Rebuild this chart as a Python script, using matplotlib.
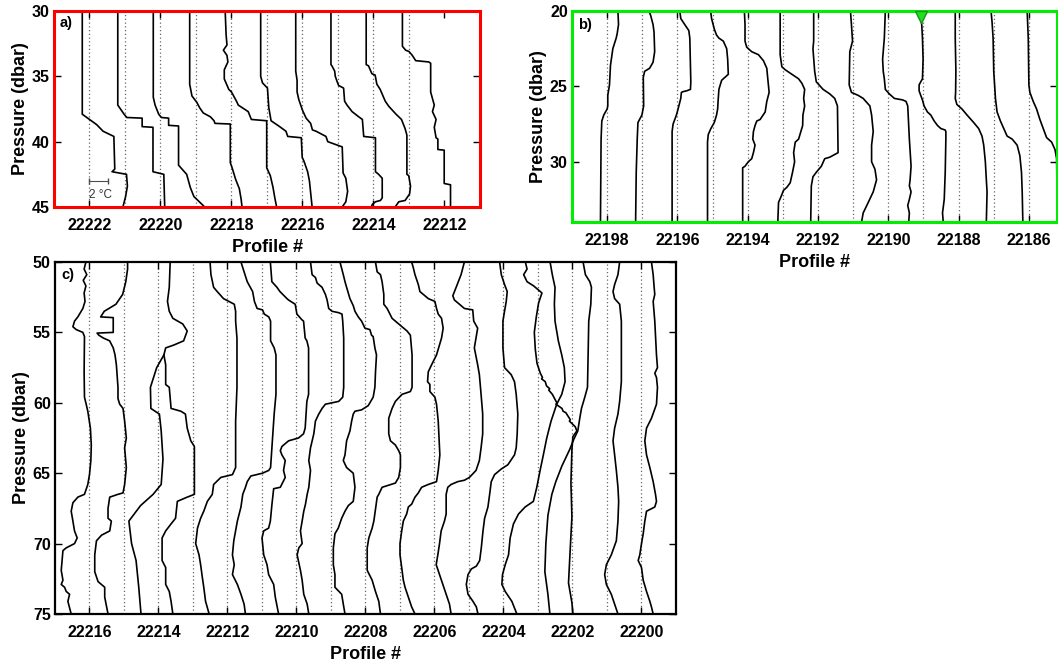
import matplotlib.pyplot as plt

plt.rcParams['font.family'] = ['Liberation Sans', 'DejaVu Sans']

# ---- panel a : profiles 22222..22213, (pressure dbar, temperature offset degC) ----
a_22222 = [(30, -0.8), (37.9, -0.8), (38.2, -0.2), (38.7, 0.8), (39.2, 1.5), (39.6, 2.7), (42.1, 2.8),
           (42.3, 2.5), (42.5, 4.1), (43.4, 4.2), (44.2, 4.0), (45, 3.7)]
a_22221 = [(30, -0.8), (37.2, -0.8), (37.6, -0.4), (37.9, -0.1), (38.15, 0.2), (38.2, 1.9), (38.85, 1.9),
           (38.9, 3.1), (42.3, 3.1), (42.5, 4.3), (45, 4.4)]
a_22220 = [(30, -0.8), (36.6, -0.8), (37.2, -0.6), (37.9, -0.2), (38.15, 0.1), (38.2, 0.9), (38.75, 0.9),
           (38.8, 2.0), (41.8, 2.0), (42.5, 2.9), (43.5, 3.3), (44.2, 3.7), (45, 4.9)]
a_22219 = [(30, -0.7), (35.6, -0.7), (36.5, -0.45), (37.0, 0.1), (37.4, 0.4), (37.8, 0.8), (38.1, 1.6),
           (38.4, 2.0), (38.6, 2.1), (38.65, 3.8), (41.6, 3.8), (42.0, 4.0), (42.9, 4.4), (43.6, 4.8),
           (44.4, 5.0), (45, 5.1)]
a_22218 = [(30, -0.7), (31.8, -0.6), (32.6, -0.5), (33.0, -0.9), (33.4, -0.5), (33.9, -0.4), (34.5, -0.8),
           (35.2, -0.8), (36.0, -0.3), (36.2, 0.0), (36.9, 0.55), (37.2, 0.75), (37.7, 1.85), (38.3, 2.2),
           (38.4, 3.9), (42.0, 3.9), (42.6, 4.3), (43.5, 4.6), (44.3, 4.8), (45, 5.0)]
a_22217 = [(30, -0.7), (35.0, -0.7), (35.5, -0.5), (35.9, 0.05), (37.4, 0.2), (38.4, 0.45), (38.8, 1.3),
           (39.2, 2.1), (39.6, 2.3), (39.7, 3.8), (41.2, 3.9), (41.5, 4.1), (42.3, 4.5), (43.0, 4.7), (45, 5.0)]
a_22216 = [(30, -0.75), (34.6, -0.75), (35.3, -0.6), (36.2, -0.6), (36.8, -0.4), (37.6, 0.0), (38.2, 0.4),
           (38.6, 0.9), (39.1, 1.1), (39.2, 1.5), (39.6, 2.6), (40.0, 2.8), (40.4, 4.4), (42.4, 4.5),
           (42.8, 4.8), (43.8, 5.0), (44.6, 4.8), (45, 4.4)]
a_22215 = [(30, -0.78), (34.1, -0.78), (34.2, -0.67), (34.6, -0.37), (35.0, -0.3), (35.4, -0.1), (35.7, 0.07),
           (35.9, 0.62), (36.9, 0.73), (37.2, 1.0), (37.7, 1.56), (38.1, 2.3), (38.3, 2.7), (39.6, 2.85),
           (39.7, 4.15), (42.3, 4.15), (42.5, 4.5), (42.8, 4.9), (44.3, 4.9), (44.5, 4.7), (44.6, 4.15),
           (44.8, 3.8), (45, 3.7)]
a_22214 = [(30, -0.81), (34.1, -0.81), (34.2, -0.55), (34.8, -0.18), (34.9, 0.18), (35.6, 0.37), (36.0, 0.74),
           (36.9, 1.3), (37.3, 1.7), (37.9, 2.5), (38.3, 3.1), (39.0, 3.5), (39.5, 3.7), (42.5, 3.7),
           (42.6, 3.9), (43.4, 4.1), (44.0, 4.0), (44.5, 3.5), (44.6, 2.8), (45, 2.4)]
a_22213 = [(30, -0.73), (32.7, -0.73), (33.0, -0.37), (33.1, 0.0), (33.4, 0.37), (33.8, 0.74), (33.9, 2.2),
           (34.0, 2.4), (36.2, 2.4), (36.7, 2.6), (37.2, 2.8), (37.7, 2.6), (38.3, 3.0), (38.9, 2.8),
           (39.7, 3.0), (39.8, 3.2), (40.6, 3.2), (40.65, 3.9), (43.2, 3.9), (43.3, 4.6), (45, 4.6)]

profiles_a = [22222, 22221, 22220, 22219, 22218, 22217, 22216, 22215, 22214, 22213]
curves_a = [a_22222, a_22221, a_22220, a_22219, a_22218, a_22217, a_22216, a_22215, a_22214, a_22213]

# ---- panel b : profiles 22198..22186 ----
b_22198 = [(20, 1.19), (20.9, 1.26), (21.5, 1.11), (21.8, 1.0), (22.5, 0.63), (23.6, 0.37), (24.9, 0.26),
           (25.6, 0.07), (26.3, 0.07), (26.5, 0.0), (26.9, -0.37), (27.3, -0.59), (28.5, -0.67), (34, -0.74)]
b_22197 = [(20, 0.74), (20.3, 0.93), (20.9, 1.19), (21.4, 1.3), (22.7, 1.37), (23.4, 1.19), (23.8, 0.81),
           (24.0, 0.26), (24.4, 0.11), (26.3, 0.15), (26.9, -0.04), (27.4, -0.48), (28.5, -0.56), (30.7, -0.67),
           (34, -0.74)]
b_22196 = [(20, 0.26), (20.5, 0.37), (20.9, 0.81), (21.3, 1.26), (21.8, 1.37), (24.7, 1.48), (25.2, 1.44),
           (25.3, 1.0), (25.35, 0.63), (25.4, 0.44), (25.8, 0.37), (26.5, 0.07), (26.9, -0.11), (27.5, -0.48),
           (28.0, -0.59), (34, -0.59)]
b_22195 = [(20, -0.22), (20.5, -0.11), (21.2, 0.19), (21.6, 0.44), (21.8, 0.7), (22.0, 1.19), (22.5, 1.56),
           (23.2, 1.67), (24.2, 1.74), (24.4, 1.37), (24.6, 1.0), (25.2, 0.7), (25.8, 0.63), (26.5, 0.56),
           (26.9, 0.44), (27.4, 0.19), (27.8, -0.19), (28.2, -0.48), (28.7, -0.56), (34, -0.56)]
b_22194 = [(20, -0.37), (20.9, -0.3), (22.0, -0.3), (22.4, -0.11), (22.7, 0.44), (22.9, 1.19), (23.3, 1.74),
           (23.8, 2.11), (24.5, 2.22), (25.4, 2.37), (26.0, 2.11), (26.7, 1.93), (27.2, 1.37), (27.3, 1.0),
           (27.6, 0.81), (28.0, 0.63), (28.5, 0.56), (28.9, 0.81), (29.4, 0.63), (29.8, 0.44), (30.0, 0.07),
           (30.3, -0.3), (30.4, -0.56), (34, -0.56)]
b_22193 = [(20, -0.3), (22.9, -0.3), (23.7, -0.11), (23.9, 0.26), (24.2, 1.0), (24.5, 1.74), (24.8, 2.11),
           (25.2, 2.41), (25.8, 2.3), (26.3, 2.41), (26.9, 2.22), (27.6, 2.19), (28.5, 1.74), (28.7, 1.37),
           (29.4, 1.19), (30.0, 1.3), (30.7, 1.07), (31.4, 0.81), (31.7, 0.44), (31.9, 0.07), (32.3, -0.19),
           (32.7, -0.48), (34, -0.56)]
b_22192 = [(20, -0.48), (22.0, -0.48), (22.5, -0.56), (24.0, -0.37), (24.7, -0.19), (25.2, 0.56), (25.5, 1.3),
           (25.8, 1.85), (26.3, 2.15), (29.4, 2.22), (29.7, 1.3), (29.8, 0.74), (30.3, 0.37), (30.7, -0.19),
           (31.0, -0.56), (31.6, -0.74), (34, -0.81)]
b_22191 = [(20, -0.3), (20.9, -0.19), (22.0, -0.07), (22.7, -0.37), (24.9, -0.44), (25.4, -0.19), (25.6, 0.56),
           (25.8, 1.11), (26.3, 1.85), (26.9, 2.04), (28.0, 2.22), (28.9, 2.04), (30.0, 2.04), (30.5, 2.41),
           (31.2, 2.59), (32.0, 2.22), (32.7, 1.67), (33.4, 1.11), (34, 0.93)]
b_22190 = [(20, -0.33), (21.8, -0.44), (23.2, -0.63), (24.0, -0.56), (24.5, -0.44), (25.2, -0.33), (25.5, 0.11),
           (25.8, 0.67), (25.9, 1.59), (26.0, 1.96), (26.3, 2.15), (28.5, 2.33), (30.3, 2.52), (31.2, 2.41),
           (31.6, 2.33), (32.0, 2.52), (32.5, 2.33), (32.9, 2.15), (33.4, 2.33), (34, 2.26)]
b_22189 = [(20, -0.37), (20.9, -0.19), (21.8, -0.11), (23.2, -0.04), (24.5, -0.11), (24.7, -0.3), (24.9, -0.48),
           (25.3, -0.48), (25.6, -0.3), (25.9, -0.11), (26.3, 0.07), (26.7, 0.44), (26.9, 0.81), (27.3, 1.19),
           (27.6, 1.56), (27.8, 1.93), (27.9, 2.41), (28.0, 2.48), (28.5, 2.48), (30.7, 2.41), (32.5, 2.3),
           (33.4, 2.11), (34, 2.19)]
b_22188 = [(20, -0.37), (21.8, -0.37), (24.0, -0.3), (25.4, -0.33), (25.8, -0.37), (26.2, -0.19), (26.5, 0.37),
           (26.9, 0.93), (27.4, 1.67), (27.8, 2.22), (28.3, 2.59), (28.9, 2.78), (30.0, 2.96), (31.2, 3.07),
           (32.0, 3.15), (34, 3.07)]
b_22187 = [(20, -0.3), (20.7, -0.19), (21.8, -0.07), (24.0, 0.0), (25.8, 0.19), (26.7, 0.37), (27.3, 0.74),
           (27.8, 1.11), (28.3, 1.48), (28.5, 2.04), (28.9, 2.59), (29.6, 2.89), (30.7, 3.07), (32.0, 3.15),
           (34, 3.22)]
b_22186 = [(20, -0.19), (21.8, -0.07), (24.9, 0.0), (25.4, 0.11), (26.0, 0.48), (26.5, 0.85), (27.2, 1.22),
           (27.8, 1.59), (28.4, 1.96), (28.7, 2.52), (29.2, 2.89), (29.8, 3.07), (34, 3.15)]

profiles_b = [22198, 22197, 22196, 22195, 22194, 22193, 22192, 22191, 22190, 22189, 22188, 22187, 22186]
curves_b = [b_22198, b_22197, b_22196, b_22195, b_22194, b_22193, b_22192, b_22191, b_22190, b_22189,
            b_22188, b_22187, b_22186]
marker_b = (22189.08, 20.4)

# ---- panel c : profiles 22216..22200 ----
c_22216 = [(50, -0.4), (50.5, -0.6), (50.9, -0.3), (51.3, -0.7), (51.7, -0.4), (52.2, -0.6), (52.8, -0.5),
           (53.3, -0.74), (53.9, -1.3), (54.2, -1.67), (54.6, -1.85), (54.8, -1.48), (55.0, -0.74), (55.3, -0.56),
           (57.8, -0.6), (59.6, -0.56), (60.1, -0.37), (60.6, -0.19), (61.8, 0.1), (63.0, 0.2), (64.1, 0.15),
           (65.1, 0.0), (65.8, -0.19), (66.5, -0.56), (66.7, -1.3), (67.1, -1.85), (67.7, -2.04), (68.4, -1.85),
           (69.1, -1.67), (69.6, -1.37), (70.0, -1.67), (70.3, -2.59), (70.5, -2.96), (71.9, -3.15),
           (72.6, -2.96), (72.9, -3.15), (73.1, -2.78), (73.4, -2.59), (73.6, -2.22), (74.1, -2.41), (75, -2.04)]
c_22215 = [(50, 0.4), (50.5, 0.4), (51.4, 0.2), (52.3, -0.15), (53.0, -0.9), (53.5, -2.2), (53.9, -2.6),
           (53.95, -1.2), (55.0, -1.2), (55.05, -3.0), (55.2, -2.8), (55.4, -2.3), (55.6, -1.6), (56.1, -1.2),
           (56.6, -1.0), (57.3, -0.85), (58.9, -0.67), (59.7, -0.67), (60.1, -0.48), (60.4, -0.11), (61.3, 0.07),
           (62.5, 0.26), (63.2, 0.07), (64.6, 0.26), (65.8, 0.07), (66.4, -0.11), (66.5, -0.67), (66.7, -1.59),
           (67.5, -1.78), (68.2, -1.78), (68.4, -1.41), (69.1, -1.59), (69.4, -2.5), (69.8, -3.07),
           (70.8, -3.26), (72.0, -3.26), (72.7, -2.89), (73.1, -2.15), (73.8, -2.15), (75, -1.78)]
c_22214 = [(50, 1.3), (51.8, 1.2), (52.8, 1.0), (53.5, 1.2), (54.0, 1.6), (54.4, 2.7), (54.9, 3.2), (55.6, 2.8),
           (55.9, 1.7), (56.1, 0.8), (56.6, 0.6), (57.3, 0.8), (58.7, 0.8), (58.9, 1.2), (60.4, 1.4), (60.6, 2.5),
           (60.8, 3.0), (61.8, 3.2), (62.7, 3.6), (63.1, 4.0), (64.8, 4.0), (66.5, 4.0), (66.7, 3.2), (67.0, 2.1),
           (68.2, 1.9), (68.6, 1.4), (69.1, 0.8), (69.6, 0.4), (71.2, 0.4), (71.7, 0.8), (72.9, 0.8), (73.4, 1.2),
           (74.1, 1.4), (75, 1.6)]
# second trace near 22214 that splits off below 56 dbar
c_22214_low = [(56.6, 0.6), (57.5, -0.2), (58.9, -0.9), (60.4, -0.85), (60.8, 0.1), (62.0, 0.3), (64.0, 0.5),
               (65.8, 0.3), (66.5, -0.6), (67.3, -2.0), (68.4, -3.3), (70.0, -3.0), (71.2, -2.5), (73.1, -2.2),
               (75, -1.95)]
c_22213 = [(50, 1.9), (50.9, 2.0), (51.8, 2.3), (52.1, 2.7), (52.6, 3.4), (52.8, 4.0), (53.0, 4.6), (53.5, 4.75),
           (54.2, 4.75), (55.4, 4.9), (58.9, 4.9), (61.3, 4.75), (64.6, 4.75), (65.1, 4.4), (65.3, 3.1),
           (65.8, 2.3), (66.5, 2.15), (67.0, 1.6), (67.7, 1.2), (68.2, 0.85), (68.9, 0.5), (70.0, 0.3),
           (70.8, 0.67), (71.5, 0.85), (72.4, 1.04), (73.1, 1.2), (74.1, 1.4), (75, 1.8)]
c_22212 = [(50, 1.5), (50.4, 1.7), (51.4, 2.2), (52.1, 2.8), (52.8, 3.0), (53.3, 3.3), (53.4, 3.9), (53.7, 4.1),
           (53.9, 4.6), (54.2, 4.8), (55.6, 4.8), (56.1, 5.2), (56.6, 5.4), (59.4, 5.4), (60.8, 5.2), (62.7, 5.0),
           (64.6, 4.8), (64.8, 4.6), (65.0, 3.9), (65.2, 2.6), (65.6, 2.2), (66.0, 2.0), (66.5, 1.7), (67.4, 1.5),
           (68.4, 1.1), (69.1, 0.9), (69.8, 0.7), (70.8, 0.55), (71.5, 0.75), (72.2, 0.55), (72.9, 1.1),
           (73.6, 1.5), (74.3, 1.85), (75, 2.0)]
c_22211 = [(50, 0.93), (51.4, 1.1), (51.8, 1.67), (52.1, 2.0), (52.6, 2.78), (52.7, 2.96), (53.0, 3.7),
           (53.7, 3.89), (54.1, 4.44), (54.2, 4.63), (55.4, 4.81), (55.6, 5.0), (56.1, 5.19), (59.4, 5.19),
           (59.9, 5.0), (61.8, 4.81), (62.2, 4.63), (62.5, 4.07), (62.7, 2.96), (63.1, 2.22), (63.4, 2.04),
           (63.7, 2.22), (64.1, 2.59), (64.8, 2.4), (65.3, 2.59), (66.0, 2.04), (66.1, 1.3), (67.2, 1.11),
           (68.4, 0.93), (68.9, 0.74), (69.1, 0.19), (69.6, 0.0), (70.8, 0.19), (71.5, 0.56), (72.2, 0.74),
           (72.9, 1.3), (73.8, 1.48), (75, 1.85)]
c_22210 = [(50, 1.56), (50.9, 1.74), (51.1, 2.11), (51.5, 2.3), (51.8, 2.85), (52.3, 3.22), (52.7, 3.41),
           (53.3, 3.59), (53.5, 3.96), (53.6, 4.7), (53.7, 5.07), (54.2, 5.15), (55.4, 5.26), (58.9, 5.26),
           (59.6, 5.15), (59.9, 4.7), (60.0, 3.96), (60.1, 3.22), (60.4, 2.85), (60.8, 2.48), (61.3, 2.11),
           (62.2, 1.93), (63.2, 1.56), (64.1, 1.37), (64.8, 1.56), (66.0, 1.37), (66.5, 1.19), (67.2, 1.0),
           (67.7, 0.81), (68.4, 0.63), (69.1, 0.44), (70.0, 0.63), (70.3, 0.26), (70.8, 0.07), (71.9, 0.44),
           (72.6, 0.63), (73.6, 0.81), (74.3, 1.19), (75, 1.37)]
c_22209 = [(50, 1.0), (50.9, 1.37), (51.4, 1.56), (51.8, 1.74), (52.6, 2.11), (53.1, 2.48), (53.5, 2.67),
           (53.9, 3.04), (54.2, 3.41), (54.7, 3.78), (54.8, 4.33), (55.2, 4.52), (55.3, 4.7), (56.1, 4.89),
           (56.6, 5.07), (57.8, 4.96), (58.9, 4.89), (59.6, 4.7), (60.2, 4.15), (60.5, 3.41), (60.6, 2.67),
           (60.8, 2.48), (61.3, 2.3), (62.0, 2.11), (62.7, 1.74), (63.7, 1.56), (64.1, 1.37), (64.6, 1.74),
           (65.0, 2.48), (66.0, 2.67), (67.0, 2.48), (67.3, 1.93), (67.7, 1.56), (68.2, 1.19), (68.9, 0.81),
           (69.3, 0.44), (70.3, 0.26), (71.5, 0.26), (72.2, 0.44), (73.1, 0.44), (73.6, 1.19), (74.3, 1.37),
           (75, 1.56)]
c_22208 = [(50, 1.11), (50.7, 1.3), (50.9, 1.67), (51.4, 1.85), (52.3, 2.04), (53.0, 2.04), (53.3, 2.41),
           (54.0, 2.96), (54.2, 3.33), (54.4, 3.7), (54.6, 4.07), (54.9, 4.63), (55.2, 5.0), (56.6, 5.19),
           (58.9, 5.19), (59.2, 5.0), (59.4, 4.07), (59.9, 3.33), (60.4, 2.96), (61.1, 2.59), (62.2, 2.59),
           (62.7, 2.78), (63.0, 3.33), (63.4, 3.7), (63.7, 3.89), (64.6, 3.89), (65.3, 3.7), (65.7, 3.33),
           (66.0, 1.85), (66.5, 1.48), (66.7, 1.3), (68.4, 0.93), (68.9, 0.74), (69.6, 0.37), (70.3, 0.19),
           (71.9, 0.19), (72.6, 0.74), (73.4, 1.11), (74.1, 1.48), (75, 1.67)]
c_22207 = [(50, 1.3), (50.4, 1.48), (50.9, 1.67), (51.6, 2.04), (52.1, 2.22), (52.4, 2.78), (52.6, 3.15),
           (52.8, 3.89), (53.3, 4.07), (53.7, 4.26), (54.0, 4.63), (54.7, 4.81), (55.4, 4.63), (56.6, 4.07),
           (57.3, 3.52), (57.8, 3.15), (58.5, 3.07), (58.7, 3.33), (59.2, 3.33), (59.6, 3.89), (60.1, 4.07),
           (61.3, 4.26), (63.7, 4.44), (64.8, 4.26), (65.6, 4.07), (65.8, 3.15), (66.0, 2.41), (66.4, 2.04),
           (66.7, 1.67), (67.2, 1.3), (67.4, 0.93), (67.9, 0.74), (68.4, 0.37), (69.1, 0.19), (70.0, 0.0),
           (70.8, 0.0), (71.7, 0.19), (72.6, 0.37), (73.1, 0.56), (73.8, 0.93), (74.5, 1.3), (75, 1.67)]
c_22206 = [(50, 3.33), (50.9, 2.96), (51.8, 2.41), (52.4, 2.04), (52.7, 2.22), (53.0, 2.78), (53.3, 3.33),
           (53.4, 4.26), (54.2, 4.37), (54.7, 4.81), (56.1, 4.44), (57.3, 4.81), (58.0, 5.0), (59.4, 5.19),
           (60.8, 5.37), (62.2, 5.37), (63.2, 5.19), (64.1, 5.0), (64.8, 4.63), (65.3, 3.89), (65.5, 3.33),
           (65.6, 2.59), (65.8, 1.85), (66.0, 1.48), (66.5, 1.3), (67.9, 1.3), (68.4, 1.11), (69.1, 0.74),
           (70.0, 0.56), (70.8, 0.37), (71.5, 0.19), (72.2, 0.56), (72.9, 0.93), (73.6, 1.3), (74.3, 1.67),
           (75, 1.85)]
c_22205 = [(50, 3.41), (50.9, 3.6), (51.6, 3.96), (52.1, 4.26), (52.8, 4.15), (53.5, 3.96), (54.2, 3.78),
           (56.1, 3.78), (57.5, 3.96), (58.0, 4.7), (58.5, 5.07), (59.4, 5.26), (60.8, 5.44), (62.2, 5.37),
           (63.2, 5.26), (63.7, 5.07), (64.4, 4.33), (64.7, 3.6), (65.1, 2.85), (65.6, 2.48), (66.5, 2.3),
           (67.4, 2.11), (68.2, 1.74), (69.1, 1.56), (70.3, 1.37), (71.2, 1.19), (71.6, 0.82), (71.8, 0.26),
           (72.2, -0.11), (72.9, -0.3), (73.6, -0.11), (74.1, 0.44), (74.5, 0.82), (75, 1.0)]
c_22204 = [(50, 5.19), (50.9, 5.44), (51.8, 5.74), (53.0, 5.67), (54.2, 5.74), (55.6, 6.11), (56.6, 6.49),
           (57.5, 6.78), (58.5, 6.86), (59.4, 6.49), (60.1, 5.93), (61.3, 5.3), (62.5, 4.82), (63.7, 4.44),
           (64.8, 4.08), (66.0, 3.71), (67.0, 3.33), (67.4, 2.41), (67.9, 1.67), (68.6, 1.11), (69.6, 0.74),
           (70.8, 0.56), (71.5, 0.19), (72.2, -0.11), (72.9, -0.18), (73.4, 0.19), (74.1, 0.93), (75, 1.49)]
c_22203 = [(50, -1.41), (50.5, -1.22), (50.9, -1.6), (51.4, -1.22), (51.7, -0.48), (52.2, 0.44), (52.9, 0.07),
           (53.9, -0.19), (55.0, -0.41), (56.2, -0.3), (57.2, -0.11), (57.9, 0.26), (58.2, 0.5), (58.3, 0.4),
           (58.5, 0.81), (58.8, 0.95), (59.0, 1.3), (59.1, 1.2), (59.4, 1.6), (59.8, 1.93), (60.0, 2.1),
           (60.1, 2.0), (60.4, 2.67), (60.6, 2.8), (60.7, 3.1), (61.0, 3.4), (61.2, 3.6), (61.3, 3.5),
           (61.7, 4.15), (62.0, 4.33), (62.4, 3.89), (63.3, 3.78), (65.7, 3.67), (68.1, 3.78), (70.4, 3.59),
           (72.8, 3.4), (74.2, 3.78), (75, 3.89)]
c_22202 = [(50, 1.18), (50.9, 1.44), (51.4, 1.93), (51.8, 2.11), (53.0, 2.04), (54.2, 1.81), (56.6, 1.74),
           (58.9, 1.67), (59.6, 1.37), (60.4, 1.0), (61.1, 0.81), (62.0, 0.59), (62.6, 0.14), (63.3, -0.3),
           (64.5, -1.19), (65.6, -1.86), (66.5, -2.3), (68.0, -2.74), (70.0, -2.97), (72.0, -3.08),
           (73.6, -2.74), (75, -2.52)]
c_22201 = [(50, 1.41), (50.9, 1.22), (51.6, 0.85), (52.1, 0.67), (52.6, 0.85), (53.0, 1.41), (54.2, 1.6),
           (56.6, 1.6), (58.5, 1.6), (59.9, 1.41), (60.8, 1.22), (61.8, 0.85), (62.7, 0.67), (63.7, 0.85),
           (64.8, 1.04), (66.0, 1.22), (67.0, 1.3), (68.4, 1.22), (69.8, 1.04), (70.8, 0.48), (71.5, -0.07),
           (72.2, -0.26), (72.9, -0.07), (73.6, 0.48), (74.3, 0.85), (75, 1.22)]
c_22200 = [(50, 1.11), (50.9, 1.3), (51.8, 1.41), (52.3, 1.48), (52.8, 1.3), (54.2, 1.48), (56.6, 1.67),
           (57.5, 1.78), (57.9, 1.48), (58.2, 1.67), (58.9, 1.78), (60.1, 1.67), (61.1, 1.11), (61.8, 0.56),
           (62.7, 0.37), (63.7, 0.56), (64.6, 0.93), (65.6, 1.3), (66.5, 1.56), (67.0, 1.67), (67.4, 1.48),
           (67.7, 0.56), (68.4, 0.37), (69.3, 0.19), (70.0, 0.0), (70.8, -0.19), (71.2, -0.37), (71.7, 0.0),
           (72.6, 0.19), (73.4, 0.56), (74.1, 0.93), (74.5, 1.11), (75, 1.3)]

profiles_c = [22216, 22215, 22214, 22214, 22213, 22212, 22211, 22210, 22209, 22208, 22207, 22206, 22205,
              22204, 22203, 22202, 22201, 22200]
curves_c = [c_22216, c_22215, c_22214, c_22214_low, c_22213, c_22212, c_22211, c_22210, c_22209, c_22208,
            c_22207, c_22206, c_22205, c_22204, c_22203, c_22202, c_22201, c_22200]

W, H = 1058, 665
fig = plt.figure(figsize=(W / 100, H / 100), dpi=100)


def panel(rect, profiles, curves, k, xlim, ylim, xticks, yticks, frame, letter, lpos):
    l, t, r, b = rect
    ax = fig.add_axes([l / W, 1 - b / H, (r - l) / W, (b - t) / H])
    for prof in sorted(set(profiles)):
        ax.axvline(prof, color='0.4', lw=0.9, ls=(0, (1, 2)), zorder=1)
    for prof, curve in zip(profiles, curves):
        ax.plot([prof - c[1] * k for c in curve], [c[0] for c in curve], color='k', lw=1.2, zorder=2)
    ax.set_xlim(*xlim)
    ax.set_ylim(*ylim)
    ax.set_xticks(xticks)
    ax.set_yticks(yticks)
    ax.tick_params(direction='in', top=True, right=True, length=5, width=1, labelsize=11.5)
    ax.tick_params(axis='x', pad=8)
    ax.tick_params(axis='y', pad=3)
    for lab in ax.get_xticklabels() + ax.get_yticklabels():
        lab.set_fontweight('bold')
    for s in ax.spines.values():
        s.set_color(frame)
        s.set_linewidth(2.2 if frame != 'k' else 1.6)
        s.set_zorder(5)
    ax.set_xlabel('Profile #', fontsize=13, fontweight='bold', labelpad=4)
    ax.set_ylabel('Pressure (dbar)', fontsize=13, fontweight='bold', labelpad=2)
    ax.text(lpos[0], lpos[1], letter, transform=ax.transAxes, ha='left', va='top',
            fontsize=10.5, fontweight='bold')
    return ax


ka = 9 / 35.4
ax_a = panel((54, 11, 480, 207), profiles_a, curves_a, ka, (22223, 22211), (45, 30),
             [22222, 22220, 22218, 22216, 22214, 22212], [30, 35, 40, 45], 'red', 'a)', (0.013, 0.975))
# 2 degC scale bar
ax_a.plot([22222, 22222 - 2 * ka], [43.0, 43.0], color='0.3', lw=0.8, marker='|', ms=4, zorder=3)
ax_a.text(22222, 44.1, '2 °C', fontsize=8.5, ha='left', va='center', color='0.2')

kb = 9 / 35.0
ax_b = panel((572, 11, 1057, 222), profiles_b, curves_b, kb, (22199, 22185.2), (34, 20),
             [22198, 22196, 22194, 22192, 22190, 22188, 22186], [20, 25, 30], '#00ee00', 'b)', (0.013, 0.965))
ax_b.plot(*marker_b, marker='v', color='#22dd22', mec='#119911', ms=8, clip_on=False, zorder=6)

kc = 9 / 34.6
ax_c = panel((55, 262, 676, 614), profiles_c, curves_c, kc, (22217, 22199), (75, 50),
             [22216, 22214, 22212, 22210, 22208, 22206, 22204, 22202, 22200], [50, 55, 60, 65, 70, 75],
             'k', 'c)', (0.011, 0.983))

fig.savefig('out.png', dpi=100)
